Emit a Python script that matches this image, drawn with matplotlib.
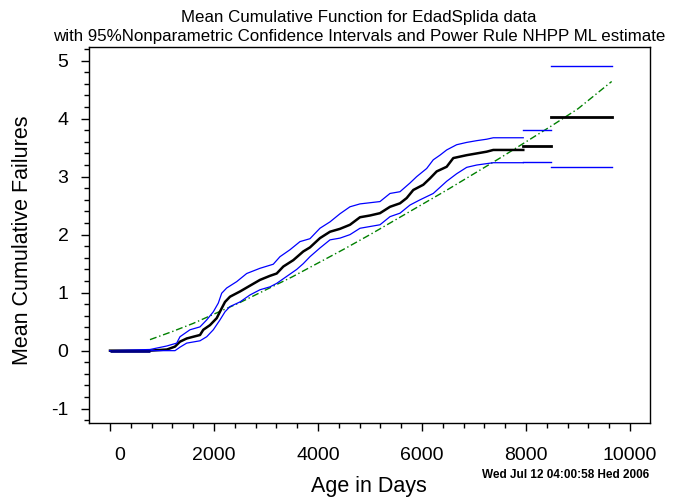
import numpy as np
import matplotlib
matplotlib.use("Agg")
import matplotlib.pyplot as plt
from matplotlib.ticker import MultipleLocator
from matplotlib.transforms import ScaledTranslation

plt.rcParams['font.family'] = ['Liberation Sans', 'DejaVu Sans']

# MCF estimate
mcf_t = [0, 769, 1096, 1250, 1346, 1475, 1602, 1731, 1794, 1923, 2052, 2148, 2212,
         2308, 2500, 2692, 2885, 3077, 3206, 3333, 3525, 3717, 3846, 4038, 4231,
         4423, 4615, 4808, 5000, 5192, 5385, 5577, 5705, 5833, 6025, 6154, 6283,
         6475, 6602, 6860, 7052, 7244, 7371, 7948]
mcf_y = [0.0, 0.0, 0.02, 0.07, 0.155, 0.21, 0.24, 0.27, 0.36, 0.44, 0.56, 0.73, 0.84,
         0.93, 1.02, 1.12, 1.22, 1.29, 1.33, 1.45, 1.56, 1.71, 1.78, 1.94, 2.05,
         2.10, 2.17, 2.30, 2.33, 2.37, 2.48, 2.54, 2.63, 2.77, 2.86, 2.97, 3.09,
         3.17, 3.32, 3.37, 3.40, 3.43, 3.46, 3.46]

# upper and lower 95% confidence limits
upper_t = [0, 769, 1090, 1283, 1346, 1538, 1731, 1860, 1987, 2083, 2148, 2244, 2437,
           2629, 2885, 3140, 3269, 3462, 3654, 3846, 4038, 4231, 4423, 4615, 4808,
           5192, 5385, 5577, 5769, 5898, 6090, 6217, 6346, 6475, 6667, 6860, 7052,
           7244, 7371, 7948]
upper_y = [0.0, 0.02, 0.08, 0.13, 0.24, 0.36, 0.41, 0.53, 0.67, 0.82, 0.99, 1.08, 1.19,
           1.33, 1.42, 1.49, 1.62, 1.74, 1.88, 1.93, 2.11, 2.22, 2.36, 2.48, 2.53,
           2.57, 2.71, 2.74, 2.89, 3.00, 3.14, 3.29, 3.37, 3.46, 3.55, 3.59, 3.62,
           3.645, 3.67, 3.67]

lower_t = [0, 769, 1250, 1346, 1475, 1731, 1860, 1987, 2115, 2212, 2308, 2500, 2692,
           2885, 3077, 3206, 3398, 3590, 3717, 3846, 4038, 4231, 4423, 4615, 4808,
           5192, 5385, 5577, 5769, 5962, 6217, 6475, 6667, 6860, 7052, 7371, 7948]
lower_y = [0.0, 0.0, 0.0, 0.06, 0.13, 0.17, 0.24, 0.36, 0.53, 0.67, 0.76, 0.84, 0.96,
           1.05, 1.10, 1.16, 1.28, 1.40, 1.50, 1.62, 1.77, 1.91, 1.94, 2.00, 2.11,
           2.17, 2.31, 2.37, 2.51, 2.60, 2.71, 2.92, 3.05, 3.16, 3.20, 3.24, 3.24]

# last two flat pieces of each curve (start, end, level)
tail_t = [(7948, 8480), (8480, 9660)]
tail_mcf = [3.52, 4.02]
tail_upper = [3.80, 4.90]
tail_lower = [3.26, 3.17]

# flat start where all three curves sit on zero
flat_t = [0, 769]
flat_y = [0.0, 0.0]

# power rule NHPP ML estimate
nhpp_t = [769, 1200, 1600, 2000, 2500, 3000, 3500, 4000, 4500, 5000, 5500, 6000,
          6500, 7000, 7500, 8000, 8500, 9000, 9648]
nhpp_y = [0.19, 0.33, 0.47, 0.63, 0.83, 1.05, 1.27, 1.51, 1.75, 2.00, 2.26, 2.52,
          2.78, 3.05, 3.32, 3.60, 3.88, 4.17, 4.64]

fig = plt.figure(figsize=(6.77, 5.01), dpi=100)
ax = fig.add_axes([0.1319, 0.1557, 0.8282, 0.7511])

ax.plot(nhpp_t, nhpp_y, color='#008000', lw=1.0, ls=(0, (5, 2, 1, 2)), zorder=2)
ax.plot(mcf_t, mcf_y, color='black', lw=1.8, zorder=3)
ax.plot(upper_t, upper_y, color='blue', lw=0.9, zorder=4)
ax.plot(lower_t, lower_y, color='blue', lw=0.9, zorder=4)
for (t0, t1), m, u, l in zip(tail_t, tail_mcf, tail_upper, tail_lower):
    ax.plot([t0, t1], [m, m], color='black', lw=2.0, zorder=3)
    ax.plot([t0, t1], [u, u], color='blue', lw=1.0, zorder=4)
    ax.plot([t0, t1], [l, l], color='blue', lw=1.0, zorder=4)
ax.plot(flat_t, flat_y, color='#000080', lw=2.0, zorder=5, solid_capstyle='butt')

ax.set_xlim(-398, 10385)
ax.set_ylim(-1.247, 5.24)
ax.xaxis.set_major_locator(MultipleLocator(2000))
ax.xaxis.set_minor_locator(MultipleLocator(400))
ax.yaxis.set_major_locator(MultipleLocator(1))
ax.yaxis.set_minor_locator(MultipleLocator(0.2))
ax.tick_params(which='major', direction='out', length=6, width=1, labelsize=14)
ax.tick_params(which='minor', direction='out', length=3.5, width=1)
ax.tick_params(axis='x', which='major', pad=11)
ax.tick_params(axis='y', which='major', pad=9)
ax.set_xticks(range(0, 10001, 2000))
ax.set_xticklabels(['0', '2000', '4000', '6000', '8000', '10000'])
ax.set_yticks(range(-1, 6))
ax.set_yticklabels(['-1', '0', '1', '2', '3', '4', '5'])
for s in ax.spines.values():
    s.set_linewidth(1.0)

# the "0" label sits a little right of its tick in the original
lab0 = ax.get_xticklabels()[0]
lab0.set_transform(lab0.get_transform() + ScaledTranslation(0.1, 0, fig.dpi_scale_trans))

fig.text(0.530, 0.966, 'Mean Cumulative Function for EdadSplida data',
         ha='center', va='center', fontsize=12.2)
fig.text(0.530, 0.928, 'with 95%Nonparametric Confidence Intervals and Power Rule NHPP ML estimate',
         ha='center', va='center', fontsize=12.2)
fig.text(0.545, 0.028, 'Age in Days', ha='center', va='center', fontsize=15.5)
fig.text(0.033, 0.52, 'Mean Cumulative Failures', ha='center', va='center',
         rotation=90, fontsize=15.5)
fig.text(0.835, 0.052, 'Wed Jul 12 04:00:58 Hed 2006', ha='center', va='center',
         fontsize=8.5, fontweight='bold')

fig.savefig('out.png', dpi=100)
